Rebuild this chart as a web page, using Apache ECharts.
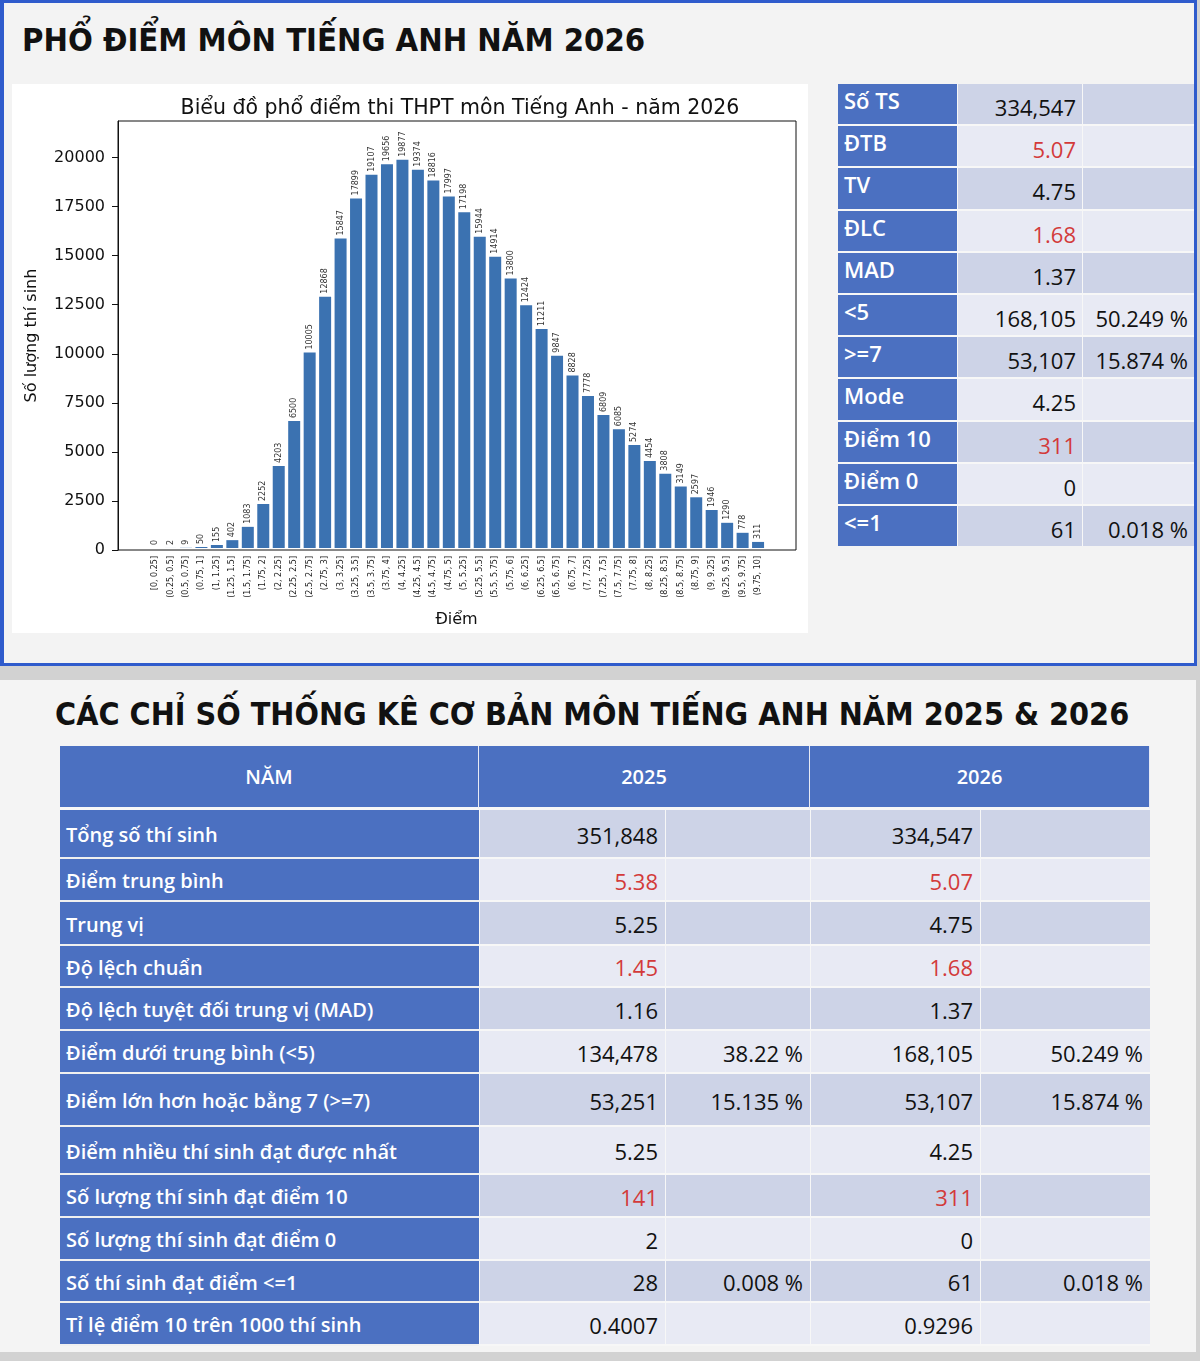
<!DOCTYPE html>
<html>
<head>
<meta charset="utf-8">
<script src="https://cdn.jsdelivr.net/npm/echarts@6/dist/echarts.min.js"></script>
<style>
	body { margin: 0; width: 1200px; height: 1361px; background: #d2d2d2; position: relative; overflow: hidden; font-family: "Open Sans", sans-serif; }
	#topPanel { position: absolute; left: 0; top: 0; width: 1197px; height: 666px; box-sizing: border-box; border: 3px solid #2f5bcc; border-left-width: 4px; background: #f3f3f3; }
	#bottomPanel { position: absolute; left: 0; top: 680px; width: 1196px; height: 672px; background: #f4f4f4; }
	.title { position: absolute; font-family: "DejaVu Sans Condensed", "DejaVu Sans", sans-serif; font-weight: bold; font-size: 32px; line-height: 40px; color: #111; white-space: nowrap; }
	#chartBox { position: absolute; left: 12px; top: 84px; width: 796px; height: 549px; background: #fff; }
	#summary { position: absolute; left: 838px; top: 84px; display: grid; grid-template-columns: 119px 124px 111px; grid-auto-rows: 40.2px; gap: 2px 1px; background: #f7f7f7; }
	#summary div, #stats div { box-sizing: border-box; white-space: nowrap; }
	.lab { background: #4b70c1; color: #fff; font-weight: 600; font-size: 22px; padding: 0 0 8px 6px; display: flex; align-items: center; }
	.val { color: #111; font-size: 22px; text-align: right; padding: 6px 6px 0 0; display: flex; align-items: center; justify-content: flex-end; }
	.odd { background: #cdd3e7; }
	.even { background: #e8eaf4; }
	.red { color: #d33a3a; }
	#stats { position: absolute; left: 60px; top: 746px; display: grid; grid-template-columns: 419px 186px 145px 170px 170px; }
	#stats .head { background: #4b70c1; color: #fff; font-size: 20px; font-weight: 600; display: flex; align-items: center; justify-content: center; border-right: 1px solid #e8eaf4; border-bottom: 3px solid #f7f7f7; }
	#stats .lab { font-size: 20px; padding: 2px 0 0 6px; border-bottom: 2px solid #f0f0f0; }
	#stats .val { font-size: 22px; padding: 2px 7px 0 0; border-bottom: 2px solid #f7f7f7; border-left: 1px solid #f7f7f7; }
</style>
</head>
<body>
<div id="topPanel"></div>
<div class="title" style="left:22px; top:20px; font-size:32.5px;">PHỔ ĐIỂM MÔN TIẾNG ANH NĂM 2026</div>
<div id="chartBox"></div>
<div id="summary"></div>
<div id="bottomPanel"></div>
<div class="title" style="left:55px; top:694px;">CÁC CHỈ SỐ THỐNG KÊ CƠ BẢN MÔN TIẾNG ANH NĂM 2025 &amp; 2026</div>
<div id="stats"></div>
<script>
// score bins and number of candidates (2026)
var scoreBins = ['[0, 0.25]', '(0.25, 0.5]', '(0.5, 0.75]', '(0.75, 1]', '(1, 1.25]', '(1.25, 1.5]', '(1.5, 1.75]', '(1.75, 2]',
	'(2, 2.25]', '(2.25, 2.5]', '(2.5, 2.75]', '(2.75, 3]', '(3, 3.25]', '(3.25, 3.5]', '(3.5, 3.75]', '(3.75, 4]',
	'(4, 4.25]', '(4.25, 4.5]', '(4.5, 4.75]', '(4.75, 5]', '(5, 5.25]', '(5.25, 5.5]', '(5.5, 5.75]', '(5.75, 6]',
	'(6, 6.25]', '(6.25, 6.5]', '(6.5, 6.75]', '(6.75, 7]', '(7, 7.25]', '(7.25, 7.5]', '(7.5, 7.75]', '(7.75, 8]',
	'(8, 8.25]', '(8.25, 8.5]', '(8.5, 8.75]', '(8.75, 9]', '(9, 9.25]', '(9.25, 9.5]', '(9.5, 9.75]', '(9.75, 10]'];
var counts2026 = [0, 2, 9, 50, 155, 402, 1083, 2252, 4203, 6500, 10005, 12868, 15847, 17899, 19107, 19656,
	19877, 19374, 18816, 17997, 17198, 15944, 14914, 13800, 12424, 11211, 9847, 8828, 7778, 6809,
	6085, 5274, 4454, 3808, 3149, 2597, 1946, 1290, 778, 311];
var yTicks = [0, 2500, 5000, 7500, 10000, 12500, 15000, 17500, 20000];
var yMax = 21865;

// small summary table (2026)
var summaryLabels = ['Số TS', 'ĐTB', 'TV', 'ĐLC', 'MAD', '<5', '>=7', 'Mode', 'Điểm 10', 'Điểm 0', '<=1'];
var summaryValues = ['334,547', '5.07', '4.75', '1.68', '1.37', '168,105', '53,107', '4.25', '311', '0', '61'];
var summaryPercents = ['', '', '', '', '', '50.249 %', '15.874 %', '', '', '', '0.018 %'];

// comparison table 2025 & 2026
var tableHeader = ['NĂM', '2025', '2026'];
var statLabels = ['Tổng số thí sinh', 'Điểm trung bình', 'Trung vị', 'Độ lệch chuẩn', 'Độ lệch tuyệt đối trung vị (MAD)',
	'Điểm dưới trung bình (<5)', 'Điểm lớn hơn hoặc bằng 7 (>=7)', 'Điểm nhiều thí sinh đạt được nhất',
	'Số lượng thí sinh đạt điểm 10', 'Số lượng thí sinh đạt điểm 0', 'Số thí sinh đạt điểm <=1', 'Tỉ lệ điểm 10 trên 1000 thí sinh'];
var values2025 = ['351,848', '5.38', '5.25', '1.45', '1.16', '134,478', '53,251', '5.25', '141', '2', '28', '0.4007'];
var percents2025 = ['', '', '', '', '', '38.22 %', '15.135 %', '', '', '', '0.008 %', ''];
var values2026 = ['334,547', '5.07', '4.75', '1.68', '1.37', '168,105', '53,107', '4.25', '311', '0', '61', '0.9296'];
var percents2026 = ['', '', '', '', '', '50.249 %', '15.874 %', '', '', '', '0.018 %', ''];
var redRows = [1, 3, 8];

var summaryRed = [1, 3, 8];
var statRowHeights = [49, 43, 44, 42, 43, 43, 53, 48, 43, 43, 42, 43];

function cell(parent, cls, text, height) {
	var d = document.createElement('div');
	d.className = cls;
	d.textContent = text;
	if (height) d.style.height = height + 'px';
	parent.appendChild(d);
	return d;
}

function buildSummary() {
	var box = document.getElementById('summary');
	var i;
	for (i = 0; i < summaryLabels.length; i++) {
		var band = (i % 2 === 0) ? ' odd' : ' even';
		var red = summaryRed.indexOf(i) >= 0 ? ' red' : '';
		cell(box, 'lab', summaryLabels[i]);
		cell(box, 'val' + band + red, summaryValues[i]);
		cell(box, 'val' + band, summaryPercents[i]);
	}
}

function buildStats() {
	var box = document.getElementById('stats');
	var h = cell(box, 'head', tableHeader[0], 64);
	h = cell(box, 'head', tableHeader[1], 64);
	h.style.gridColumn = 'span 2';
	h = cell(box, 'head', tableHeader[2], 64);
	h.style.gridColumn = 'span 2';
	var i;
	for (i = 0; i < statLabels.length; i++) {
		var band = (i % 2 === 0) ? ' odd' : ' even';
		var red = redRows.indexOf(i) >= 0 ? ' red' : '';
		var ht = statRowHeights[i];
		cell(box, 'lab', statLabels[i], ht);
		cell(box, 'val' + band + red, values2025[i], ht);
		cell(box, 'val' + band, percents2025[i], ht);
		cell(box, 'val' + band + red, values2026[i], ht);
		cell(box, 'val' + band, percents2026[i], ht);
	}
}

buildSummary();
buildStats();

var myChart = echarts.init(document.getElementById('chartBox'));
var font = 'DejaVu Sans';
var option = {
	animation: false,
	title: {
		text: 'Biểu đồ phổ điểm thi THPT môn Tiếng Anh - năm 2026',
		left: 443, top: 9, textAlign: 'center',
		textStyle: { fontFamily: font, fontSize: 20.5, fontWeight: 'normal', color: '#111' }
	},
	grid: [
		{ left: 106, right: 12, top: 37, bottom: 83, show: true, borderColor: '#111', borderWidth: 1, backgroundColor: 'transparent' },
		{ left: 135.3, right: 42.2, top: 37, bottom: 83 }
	],
	xAxis: [
		{ gridIndex: 0, type: 'value', min: 0, max: 1, show: false },
		{
			gridIndex: 1, type: 'category', data: scoreBins,
			name: 'Điểm', nameLocation: 'middle', nameGap: 64,
			nameTextStyle: { fontFamily: font, fontSize: 16, color: '#111' },
			axisLine: { show: false },
			axisTick: { alignWithLabel: true, length: 4, lineStyle: { color: '#111' } },
			axisLabel: { interval: 0, rotate: 90, fontFamily: font, fontSize: 8, color: '#222', margin: 8 }
		}
	],
	yAxis: [
		{
			gridIndex: 0, type: 'value', min: 0, max: yMax,
			name: 'Số lượng thí sinh', nameLocation: 'middle', nameGap: 78,
			nameTextStyle: { fontFamily: font, fontSize: 16, color: '#111' },
			axisLine: { show: true, lineStyle: { color: '#111' } },
			axisTick: { show: true, length: 6, customValues: yTicks, lineStyle: { color: '#111' } },
			axisLabel: {
				customValues: yTicks, fontFamily: font, fontSize: 16, color: '#111', margin: 13,
				formatter: function(v) { return String(v); }
			},
			splitLine: { show: false }
		},
		{ gridIndex: 1, type: 'value', min: 0, max: yMax, show: false, splitLine: { show: false } }
	],
	series: [{
		type: 'bar',
		xAxisIndex: 1, yAxisIndex: 1,
		data: counts2026,
		barWidth: 12,
		itemStyle: { color: '#3b72b1' },
		label: {
			show: true, position: 'top', rotate: 90, align: 'left', verticalAlign: 'middle', distance: 3,
			fontFamily: font, fontSize: 8, color: '#333'
		}
	}]
};
myChart.setOption(option);
</script>
</body>
</html>
